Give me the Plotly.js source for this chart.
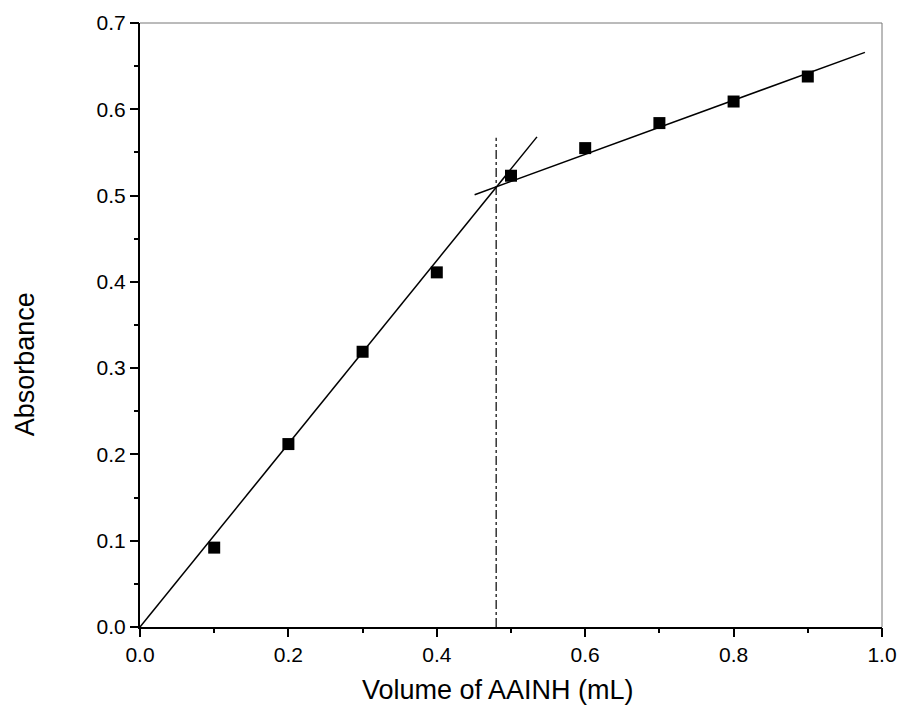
<!DOCTYPE html>
<html>
<head>
<meta charset="utf-8">
<script src="https://cdn.plot.ly/plotly-3.0.1.min.js"></script>
<style>html,body{margin:0;padding:0;background:#fff;}#chart{width:901px;height:719px;}</style>
</head>
<body>
<div id="chart"></div>
<script>
const volume = [0.1, 0.2, 0.3, 0.4, 0.5, 0.6, 0.7, 0.8, 0.9];
const absorbance = [0.092, 0.212, 0.319, 0.411, 0.523, 0.555, 0.584, 0.609, 0.638];
const fit1X = [0, 0.535];
const fit1Y = [0, 0.568];
const fit2X = [0.451, 0.977];
const fit2Y = [0.501, 0.666];
const breakX = [0.48, 0.48];
const breakY = [0, 0.567];
const xTitle = 'Volume of AAINH (mL)';
const yTitle = 'Absorbance';

const traces = [
  {x: fit1X, y: fit1Y, mode: 'lines', line: {color: '#000', width: 1.5}, hoverinfo: 'skip'},
  {x: fit2X, y: fit2Y, mode: 'lines', line: {color: '#000', width: 1.5}, hoverinfo: 'skip'},
  {x: breakX, y: breakY, mode: 'lines', line: {color: '#000', width: 1.2, dash: 'dashdot'}, hoverinfo: 'skip'},
  {x: volume, y: absorbance, mode: 'markers', marker: {symbol: 'square', size: 12, color: '#000'}},
  {x: [0], y: [0], xaxis: 'x2', yaxis: 'y2', mode: 'markers', marker: {opacity: 0}, hoverinfo: 'skip'}
];

const fam = 'Liberation Sans, Arial, sans-serif';
const layout = {
  width: 901, height: 719,
  margin: {l: 140, r: 19, t: 23, b: 92},
  showlegend: false,
  plot_bgcolor: '#fff', paper_bgcolor: '#fff',
  font: {family: fam, size: 21, color: '#000'},
  xaxis: {
    range: [0, 1.0], dtick: 0.2, tick0: 0, tickformat: '.1f',
    showgrid: false, zeroline: false,
    showline: true, linecolor: '#000', linewidth: 2,
    ticks: 'outside', ticklen: 8, tickwidth: 2, tickcolor: '#000',
    tickfont: {family: fam, size: 21, color: '#000'}
  },
  yaxis: {
    range: [0, 0.7], dtick: 0.1, tick0: 0, tickformat: '.1f',
    showgrid: false, zeroline: false,
    showline: true, linecolor: '#000', linewidth: 2,
    ticks: 'outside', ticklen: 8, tickwidth: 2, tickcolor: '#000',
    tickfont: {family: fam, size: 21, color: '#000'}
  },
  xaxis2: {
    overlaying: 'x', anchor: 'y', side: 'bottom', range: [0, 1.0], dtick: 0.1, tick0: 0,
    showgrid: false, zeroline: false, showline: false, showticklabels: false,
    ticks: 'outside', ticklen: 5, tickwidth: 2, tickcolor: '#000'
  },
  yaxis2: {
    overlaying: 'y', anchor: 'x', side: 'left', range: [0, 0.7], dtick: 0.05, tick0: 0,
    showgrid: false, zeroline: false, showline: false, showticklabels: false,
    ticks: 'outside', ticklen: 5, tickwidth: 2, tickcolor: '#000'
  },
  annotations: [
    {text: xTitle, xref: 'paper', yref: 'paper', x: 0.482, y: -0.104, xanchor: 'center', yanchor: 'middle',
     showarrow: false, font: {family: fam, size: 27, color: '#000'}},
    {text: yTitle, xref: 'paper', yref: 'paper', x: -0.155, y: 0.435, xanchor: 'center', yanchor: 'middle',
     textangle: -90, showarrow: false, font: {family: fam, size: 27, color: '#000'}}
  ],
  shapes: [
    {type: 'line', xref: 'paper', yref: 'paper', x0: 0, x1: 1, y0: 1, y1: 1, line: {color: '#777', width: 1}},
    {type: 'line', xref: 'paper', yref: 'paper', x0: 1, x1: 1, y0: 0, y1: 1, line: {color: '#777', width: 1}}
  ]
};

Plotly.newPlot('chart', traces, layout, {displayModeBar: false, staticPlot: true});
</script>
</body>
</html>
